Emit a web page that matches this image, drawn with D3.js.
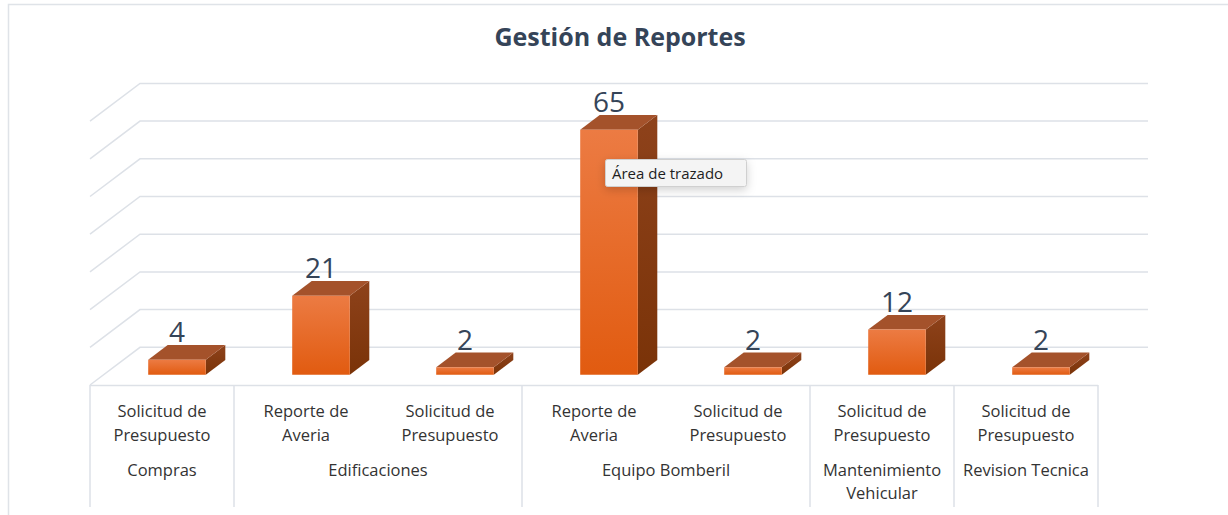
<!DOCTYPE html>
<meta charset="utf-8">
<script src="https://d3js.org/d3.v7.min.js"></script>
<style>
body { margin: 0; background: #fff; }
#chart svg { display: block; font-family: "Open Sans", sans-serif; }
</style>
<div id="chart"></div>
<script>
// data
var subLabels = ["Solicitud de\nPresupuesto", "Reporte de\nAveria", "Solicitud de\nPresupuesto",
                 "Reporte de\nAveria", "Solicitud de\nPresupuesto", "Solicitud de\nPresupuesto",
                 "Solicitud de\nPresupuesto"];
var groupLabels = ["Compras", "Edificaciones", "Equipo Bomberil", "Mantenimiento\nVehicular", "Revision Tecnica"];
var groupSizes = [1, 2, 2, 1, 1];
var values = [4, 21, 2, 65, 2, 12, 2];
var gridTicks = [0, 10, 20, 30, 40, 50, 60, 70];

var W = 1228, H = 515;
var floorY = 385, left = 90, right = 1098;
var depthX = 50, depthY = 37.7;   // full depth of the floor
var barZ0 = 0.27, barZ1 = 0.66;   // bar depth inside the floor

var svg = d3.select("#chart").append("svg")
    .attr("width", W).attr("height", H);

var defs = svg.append("defs");
var gFront = defs.append("linearGradient").attr("id", "front").attr("x1", 0).attr("y1", 0).attr("x2", 0).attr("y2", 1);
gFront.append("stop").attr("offset", "0%").attr("stop-color", "#ec7b43");
gFront.append("stop").attr("offset", "100%").attr("stop-color", "#e15b10");
var gSide = defs.append("linearGradient").attr("id", "side").attr("x1", 0).attr("y1", 0).attr("x2", 0).attr("y2", 1);
gSide.append("stop").attr("offset", "0%").attr("stop-color", "#8e421b");
gSide.append("stop").attr("offset", "100%").attr("stop-color", "#7a3308");
var shadow = defs.append("filter").attr("id", "shadow").attr("x", "-30%").attr("y", "-60%").attr("width", "160%").attr("height", "260%");
shadow.append("feDropShadow").attr("dx", 0).attr("dy", 3).attr("stdDeviation", 5).attr("flood-color", "#000").attr("flood-opacity", 0.18);

// chart border (top + left visible)
svg.append("path").attr("d", "M8.5," + H + " V4.5 H" + W)
    .attr("fill", "none").attr("stroke", "#dfe3e8").attr("stroke-width", 1.5);

// title
svg.append("text").attr("x", 620).attr("y", 46).attr("text-anchor", "middle")
    .attr("font-size", "25px").attr("font-weight", "bold").attr("fill", "#354458")
    .text("Gestión de Reportes");

var x = d3.scaleBand().domain(d3.range(values.length)).range([left, right]).padding(0);
var y = d3.scaleLinear().domain([0, 70]).range([floorY, floorY - 7 * depthY]);

function P(px, v, z) { return [px + z * depthX, y(v) - z * depthY]; }

// back wall + left wall gridlines
var grid = svg.append("g").attr("stroke", "#dde1e7").attr("stroke-width", 1.5).attr("fill", "none");
gridTicks.forEach(function(t) {
  var a = P(left, t, 0), b = P(left, t, 1), c = P(right, t, 1);
  grid.append("path").attr("d", "M" + a + "L" + b + "L" + c);
});
// floor front edge
grid.append("line").attr("x1", left).attr("x2", right).attr("y1", floorY + 0.5).attr("y2", floorY + 0.5);

// category table lines
var bounds = [0];
groupSizes.forEach(function(s, i) { bounds.push(bounds[i] + s); });
bounds.forEach(function(b) {
  var xx = b < values.length ? x(b) : right;
  grid.append("line").attr("x1", xx).attr("x2", xx).attr("y1", floorY).attr("y2", 507);
});

// bars
var bw = x.bandwidth() * 0.4;
var bars = svg.append("g").selectAll("g").data(values).enter().append("g");
bars.each(function(v, i) {
  var g = d3.select(this);
  var x0 = x(i) + (x.bandwidth() - bw) / 2 + 1.5, x1 = x0 + bw;
  var f0 = P(x0, 0, barZ0), f1 = P(x1, 0, barZ0), f2 = P(x1, v, barZ0), f3 = P(x0, v, barZ0);
  var b1 = P(x1, 0, barZ1), b2 = P(x1, v, barZ1), b3 = P(x0, v, barZ1);
  g.append("path").attr("d", "M" + [f1, b1, b2, f2].join("L") + "Z").attr("fill", "url(#side)");
  g.append("path").attr("d", "M" + [f3, f2, b2, b3].join("L") + "Z").attr("fill", "#a4522b");
  g.append("path").attr("d", "M" + [f0, f1, f2, f3].join("L") + "Z").attr("fill", "url(#front)");
  g.append("text").attr("x", (f0[0] + f1[0]) / 2).attr("y", b3[1] - 3)
    .attr("text-anchor", "middle").attr("font-size", "28px").attr("fill", "#354458")
    .text(v);
});

// sub-category labels
var lab = svg.append("g").attr("font-size", "16.5px").attr("fill", "#333").attr("text-anchor", "middle");
subLabels.forEach(function(s, i) {
  var t = lab.append("text").attr("x", x(i) + x.bandwidth() / 2).attr("y", 417);
  s.split("\n").forEach(function(line, k) {
    t.append("tspan").attr("x", x(i) + x.bandwidth() / 2).attr("dy", k ? 24 : 0).text(line);
  });
});
// group labels
groupLabels.forEach(function(s, i) {
  var cx = (x(bounds[i]) + (bounds[i + 1] < values.length ? x(bounds[i + 1]) : right)) / 2;
  var t = lab.append("text").attr("x", cx).attr("y", 476);
  s.split("\n").forEach(function(line, k) {
    t.append("tspan").attr("x", cx).attr("dy", k ? 23 : 0).text(line);
  });
});

// hover tooltip seen in the screenshot
var tip = svg.append("g");
tip.append("rect").attr("x", 605.5).attr("y", 159.5).attr("width", 141).attr("height", 27).attr("rx", 2)
  .attr("fill", "#f4f4f4").attr("stroke", "#d0d0d0").attr("filter", "url(#shadow)");
tip.append("text").attr("x", 612).attr("y", 179).attr("font-size", "15px").attr("fill", "#1e1e1e")
  .text("Área de trazado");
</script>
